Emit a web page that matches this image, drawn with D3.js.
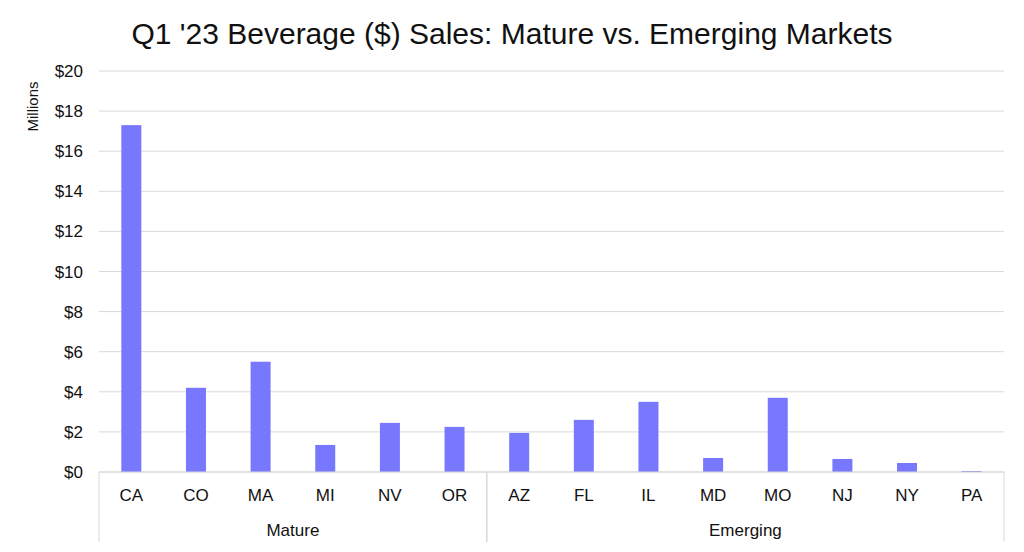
<!DOCTYPE html><html><head><meta charset="utf-8"><script src="https://cdn.jsdelivr.net/npm/d3@7"></script>
<style>body{margin:0;background:#fff}text{font-family:"Liberation Sans",Arial,sans-serif;fill:#111}</style></head><body><svg id="c" width="1024" height="552"></svg><script>
const categories=["CA","CO","MA","MI","NV","OR","AZ","FL","IL","MD","MO","NJ","NY","PA"];
const groups=["Mature","Mature","Mature","Mature","Mature","Mature","Emerging","Emerging","Emerging","Emerging","Emerging","Emerging","Emerging","Emerging"];
const groupNames=["Mature","Emerging"];
const sales=[17.3,4.2,5.5,1.35,2.45,2.25,1.95,2.6,3.5,0.7,3.7,0.65,0.45,0.05];
const ticks=[0,2,4,6,8,10,12,14,16,18,20];
const svg=d3.select("#c");
const L=99,R=1004,T=71,B=472;
const x=d3.scaleBand().domain(categories).range([L,R]);
const y=d3.scaleLinear().domain([0,20]).range([B,T]);
svg.selectAll(".g").data(ticks).join("line").attr("x1",L).attr("x2",R).attr("y1",d=>y(d)).attr("y2",d=>y(d)).attr("stroke","#d9d9d9");
svg.selectAll(".yl").data(ticks).join("text").attr("x",L-16).attr("y",d=>y(d)+6).attr("text-anchor","end").attr("font-size",17).text(d=>"$"+d);
svg.append("text").attr("transform","translate(38,"+((T+B)/2-165)+") rotate(-90)").attr("text-anchor","middle").attr("font-size",15).text("Millions");
svg.selectAll("rect").data(sales).join("rect").attr("x",(d,i)=>x(categories[i])+x.bandwidth()/2-10).attr("width",20).attr("y",d=>y(d)).attr("height",d=>B-y(d)).attr("fill","#7878fe");
svg.selectAll(".xl").data(categories).join("text").attr("x",d=>x(d)+x.bandwidth()/2).attr("y",501).attr("text-anchor","middle").attr("font-size",17).text(d=>d);
groupNames.forEach(g=>{const idx=groups.map((v,i)=>v===g?i:-1).filter(i=>i>=0);
 const x0=x(categories[idx[0]]),x1=x(categories[idx[idx.length-1]])+x.bandwidth();
 svg.append("text").attr("x",(x0+x1)/2).attr("y",536).attr("text-anchor","middle").attr("font-size",17).text(g);
 [x0,x1].forEach(v=>svg.append("line").attr("x1",v).attr("x2",v).attr("y1",B).attr("y2",542).attr("stroke","#d9d9d9"));});
svg.append("line").attr("x1",L).attr("x2",R).attr("y1",B).attr("y2",B).attr("stroke","#d9d9d9");
svg.append("text").attr("x",512).attr("y",44).attr("text-anchor","middle").attr("font-size",30).text("Q1 '23 Beverage ($) Sales: Mature vs. Emerging Markets");
</script></body></html>
